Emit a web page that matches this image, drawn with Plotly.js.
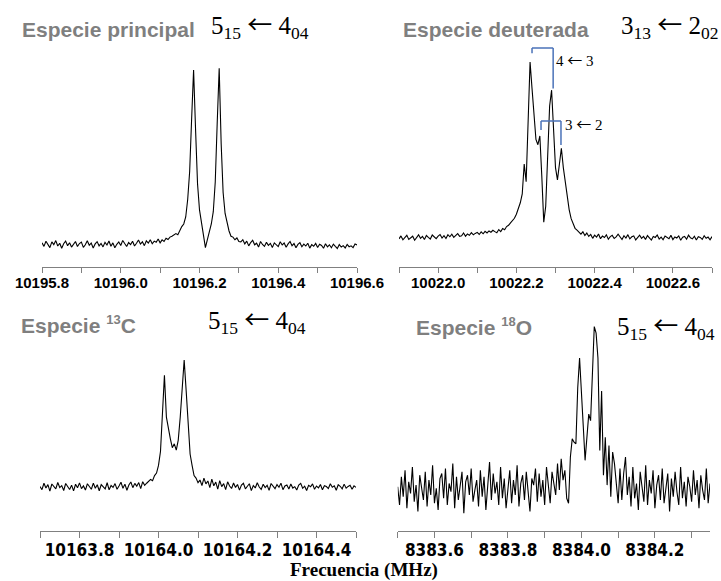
<!DOCTYPE html>
<html><head><meta charset="utf-8">
<script src="https://cdn.plot.ly/plotly-3.0.1.min.js"></script>
<style>html,body{margin:0;padding:0;background:#fff}#chart{width:721px;height:581px}</style>
</head><body><div id="chart"></div>
<script>
// ---- Data (intensity in arbitrary units, baseline ~0, strongest line ~100) ----
// Panel A: Especie principal, 5_15 <- 4_04
const freqStartA = 10195.8, freqStepA = 0.005;
const intensA = [
 1.2,-0.8,2.1,0.3,-1.5,1.8,0.2,2.5,-0.6,1.0,
 -1.9,0.7,2.2,-0.4,1.3,-1.2,0.5,2.0,-0.9,0.8,
 1.6,-1.4,0.1,2.4,-0.2,1.1,-1.7,0.6,1.9,-0.5,
 0.9,-1.1,1.5,0.0,2.3,-0.7,1.2,-1.6,0.4,1.7,
 -0.3,2.6,0.8,-0.9,1.4,0.2,2.1,-0.6,1.0,2.8,
 0.5,1.8,-0.4,2.4,1.1,3.0,0.7,2.2,1.5,3.4,
 1.2,2.9,2.0,3.8,3.1,4.5,
 5.0,6.0,6.5,5.8,8.5,10.5,12,16,26,42,72,100,66,35,20,13,7,-1.5,3,8,12,19,36,70,101,58,30,18,12,8,5,4.5,3,4.0,2.0,
 1.8,3.0,0.6,2.2,-0.5,1.4,2.7,0.1,1.0,-1.2,
 2.0,0.3,-0.8,1.5,-0.2,0.9,-1.5,1.2,0.4,-0.9,
 1.8,0.0,1.1,-1.3,0.6,2.0,-0.4,0.8,-1.6,0.3,
 1.3,-1.0,0.5,-0.6,1.0,-1.8,0.2,-0.7,0.9,-1.4,
 0.4,-0.3,-1.9,0.7,-1.1,0.1,-1.6,0.5,-0.8,-2.0,
 0.2,-1.2,-0.4,-1.7,0.3,-1.0,-0.5,-1.5,0.6,0.0
];
// Panel B: Especie deuterada, 3_13 <- 2_02
const freqStartB = 10021.9, freqStepB = 0.005;
const intensB = [
 -0.5,1.2,-1.0,0.4,1.5,-0.8,0.2,1.0,-1.3,0.6,
 1.8,-0.2,0.9,-0.9,1.4,0.3,-0.6,1.7,0.5,-0.4,
 1.1,2.0,0.0,1.3,-0.3,1.9,0.7,2.2,0.4,1.6,
 2.5,0.9,1.2,2.8,1.0,2.3,1.5,3.0,1.8,2.6,
 3.2,2.0,3.5,2.4,3.8,2.9,4.0,3.3,4.4,3.6,
 3.0,4.8,3.6,5.4,4.7,6.5,7.2,8.6,9.8,11.2,
 13.5,17,20,25,42,32,72,100,85,68,
 56,53,58,35,9,18,45,75,84,62,
 40,33,44,51,40,32,23,16,11,8,
 5.5,4.5,3.0,
 2.2,3.5,1.4,2.8,0.9,2.0,-0.2,1.6,0.5,2.3,
 -0.4,1.1,0.3,1.8,-0.7,0.8,1.5,-0.3,0.6,2.1,
 0.2,-0.9,1.3,0.0,1.9,-0.5,0.7,1.2,-1.1,0.4,
 1.6,-0.2,0.9,-0.8,1.4,0.1,-1.2,0.8,0.3,1.7,
 -0.6,0.5,-1.0,1.1,0.2,-0.4,1.5,-0.9,0.6,0.0,
 1.2,-1.3,0.4,0.9,-0.7,1.6,0.1,-0.5,1.0,-1.1,
 0.7,0.3,-0.8,1.3,-0.2,0.5,-1.0,0.8
];
// Panel C: Especie 13C, 5_15 <- 4_04
const freqStartC = 10163.7, freqStepC = 0.005;
const intensC = [
 0.5,-2.1,3.0,-0.8,1.9,-3.2,2.4,0.2,-1.5,3.6,
 -0.4,1.1,-2.7,2.8,0.6,-1.9,1.5,-3.0,2.2,-0.6,
 3.3,-1.2,0.9,-2.4,2.6,0.1,-1.7,3.1,-0.9,1.8,
 -2.9,2.0,0.4,-1.4,3.4,-2.2,1.2,-0.3,2.7,-1.8,
 0.8,3.8,-1.0,2.3,-2.5,1.6,4.0,-0.5,2.9,0.7,
 3.5,-1.3,4.2,1.4,3.0,
 4.5,6.0,5.0,9,11,17,28,62,88,55,45,38,31,34,29,37,55,80,100,76,48,26,17,9,7,3.5,
 5.5,1.2,7.0,2.5,4.8,-0.5,6.2,1.0,3.9,-1.6,
 5.0,0.3,2.7,-2.0,4.1,0.8,-1.1,3.2,-0.3,2.0,
 -2.4,1.5,3.0,-1.4,0.6,2.6,-2.8,1.2,-0.7,3.4,
 0.0,-1.9,2.2,-0.4,1.4,-2.6,2.8,0.5,-1.3,1.9,
 -0.2,3.1,-2.1,0.9,1.7,-1.5,2.4,-0.8,0.3,-2.3,
 1.6,2.9,-1.0,0.7,-2.7,1.3,0.2,2.5,-1.7,0.8,
 -0.6,2.0,-2.2,1.1,0.4,-1.2,2.6,-0.1,1.0,-2.5,
 1.8,0.6,-1.4,2.3,-0.9,0.5,1.4,-1.8,0.9,-0.3
];
// Panel D: Especie 18O, 5_15 <- 4_04
const freqStartD = 8383.5, freqStepD = 0.005;
const intensD = [
 2,-9,8,-4,12,-11,5,-2,14,-7,
 3,-13,9,0,-6,11,-10,6,-3,15,
 -8,1,-12,7,10,-5,13,-9,4,-1,
 16,-11,8,-6,2,11,-14,5,9,-3,
 13,-7,0,6,-10,12,-4,8,-12,3,
 17,-6,10,-2,5,-9,14,-5,7,-11,
 2,12,-8,6,-3,15,-10,4,9,-6,
 11,-2,-13,7,3,13,-7,10,-4,6,
 -9,14,1,-8,11,5,-3,16,0,19,
 6,12,-5,-8,20,31,29,28,62,80,56,39,18,30,46,42,70,99,95,80,24,60,9,32,3,27,-4,23,16,1,-8,13,
 -6,10,20,-3,8,-10,14,-5,4,-12,
 11,2,-7,15,-9,6,-2,12,-11,3,
 9,-6,13,-8,1,10,-13,7,-4,11,
 -1,-9,14,-5,5,-10,8,2,-7,12,
 -3,6,-11,9,0,-6,13,-8,4
];
// Axis ranges (MHz) and tick labels
const rangeA = [10195.8, 10196.6], ticksA = [10195.8, 10196.0, 10196.2, 10196.4, 10196.6];
const rangeB = [10021.9, 10022.7], ticksB = [10022.0, 10022.2, 10022.4, 10022.6];
const rangeC = [10163.7, 10164.5], ticksC = [10163.8, 10164.0, 10164.2, 10164.4];
const rangeD = [8383.5, 8384.35], ticksD = [8383.6, 8383.8, 8384.0, 8384.2];
// Texts
const ARW = '<span style="font-family:\'Noto Sans CJK JP\'">\u2190</span>';
const speciesLabels = ["Especie principal", "Especie deuterada",
  "Especie <sup><span style=\"font-size:13px\">13</span></sup>C",
  "Especie <sup><span style=\"font-size:13px\">18</span></sup>O"];
const transitionLabels = ["5<sub>15</sub> " + ARW + " 4<sub>04</sub>", "3<sub>13</sub> " + ARW + " 2<sub>02</sub>",
  "5<sub>15</sub> " + ARW + " 4<sub>04</sub>", "5<sub>15</sub> " + ARW + " 4<sub>04</sub>"];
const hfLabels = ["4 " + ARW + " 3", "3 " + ARW + " 2"];
// hyperfine brackets in panel B: [f_left, f_right, I_top, I_leftEnd, I_rightEnd]
const bracket43 = [10022.240, 10022.294, 108, 105, 85];
const bracket32 = [10022.263, 10022.314, 66.5, 61.4, 52.8];
const xTitle = "Frecuencia (MHz)";

// ---- Layout helpers ----
const W = 721, H = 581;
const PX = x => x / W, PY = y => 1 - y / H;
const lineStyle = {color: '#000', width: 1.1};

const traces = [
  {x0: freqStartA, dx: freqStepA, y: intensA, xaxis: 'x', yaxis: 'y'},
  {x0: freqStartB, dx: freqStepB, y: intensB, xaxis: 'x2', yaxis: 'y2'},
  {x0: freqStartC, dx: freqStepC, y: intensC, xaxis: 'x3', yaxis: 'y3'},
  {x0: freqStartD, dx: freqStepD, y: intensD, xaxis: 'x4', yaxis: 'y4'}
].map(t => Object.assign(t, {type: 'scatter', mode: 'lines', line: lineStyle, hoverinfo: 'skip'}));

const topTickFont = {family: 'Liberation Sans, Arial, sans-serif', size: 15, color: '#000', weight: 'bold'};
const botTickFont = {family: 'Liberation Sans Narrow, Arial Narrow, DejaVu Sans Condensed, sans-serif', size: 17, color: '#000', weight: 'bold'};
function xa(domain, range, ticks, font, standoff, tlen) {
  return {domain, range, tickvals: ticks, ticktext: ticks.map(v => v.toFixed(1)),
    showline: true, linecolor: '#808080', linewidth: 1, ticks: 'outside', ticklen: tlen,
    tickcolor: '#808080', tickwidth: 1, showgrid: false, zeroline: false, tickfont: font,
    ticklabelstandoff: standoff,
    minor: {dtick: 0.1, tick0: ticks[0], ticks: 'outside', ticklen: tlen, tickcolor: '#808080', showgrid: false},
    fixedrange: true};
}
function ya(domain, range) {
  return {domain, range, visible: false, showgrid: false, zeroline: false, fixedrange: true};
}
const topDom = [PY(266.5), PY(40)], botDom = [PY(531), PY(320)];

const grey = '#7f7f7f';
const spFont = {family: 'Liberation Sans, Arial, sans-serif', size: 21, color: grey, weight: 'bold'};
const trFont = {family: 'Liberation Serif, Times New Roman, serif', size: 25, color: '#000'};
const hfFont = {family: 'Liberation Serif, Times New Roman, serif', size: 15, color: '#000'};
function ann(text, x, y, font, xanchor) {
  return {text, x: PX(x), y: PY(y), xref: 'paper', yref: 'paper', showarrow: false,
    xanchor: xanchor || 'left', yanchor: 'middle', font, borderpad: 0};
}
const annotations = [
  ann(speciesLabels[0], 21, 30, spFont),
  ann(transitionLabels[0], 210, 24, trFont),
  ann(speciesLabels[1], 402, 30, spFont),
  ann(transitionLabels[1], 620, 24, trFont),
  ann(speciesLabels[2], 20, 324, spFont),
  ann(transitionLabels[2], 207, 319, trFont),
  ann(speciesLabels[3], 415, 326, spFont),
  ann(transitionLabels[3], 616, 325, trFont),
  ann(hfLabels[0], 555, 60, hfFont),
  ann(hfLabels[1], 564, 124, hfFont),
  ann(xTitle, 364, 570, {family: 'Liberation Serif, Times New Roman, serif', size: 19, color: '#000', weight: 'bold'}, 'center')
];
const bColor = '#4a72b8';
function bracket(b) {
  const s = {type: 'line', xref: 'x2', yref: 'y2', line: {color: bColor, width: 1.5}};
  return [
    Object.assign({x0: b[0], x1: b[1], y0: b[2], y1: b[2]}, s),
    Object.assign({x0: b[0], x1: b[0], y0: b[2], y1: b[3]}, s),
    Object.assign({x0: b[1], x1: b[1], y0: b[2], y1: b[4]}, s)
  ];
}
const layout = {
  width: W, height: H, margin: {l: 0, r: 0, t: 0, b: 0},
  paper_bgcolor: '#fff', plot_bgcolor: 'rgba(0,0,0,0)', showlegend: false,
  xaxis: Object.assign(xa([PX(42), PX(357)], rangeA, ticksA, topTickFont, -3, 5), {anchor: 'y'}),
  yaxis: Object.assign(ya(topDom, [-12.3, 117.1]), {anchor: 'x'}),
  xaxis2: Object.assign(xa([PX(399), PX(712)], rangeB, ticksB, topTickFont, -3, 5), {anchor: 'y2'}),
  yaxis2: Object.assign(ya(topDom, [-16.2, 112.5]), {anchor: 'x2'}),
  xaxis3: Object.assign(xa([PX(40), PX(356)], rangeC, ticksC, botTickFont, -2, 6), {anchor: 'y3'}),
  yaxis3: Object.assign(ya(botDom, [-34.6, 131.5]), {anchor: 'x3'}),
  xaxis4: Object.assign(xa([PX(397.7), PX(710)], rangeD, ticksD, botTickFont, -2, 6), {anchor: 'y4'}),
  yaxis4: Object.assign(ya(botDom, [-24.8, 103]), {anchor: 'x4'}),
  annotations,
  shapes: [...bracket(bracket43), ...bracket(bracket32)]
};
Plotly.newPlot('chart', traces, layout, {displayModeBar: false, staticPlot: true});
</script></body></html>
